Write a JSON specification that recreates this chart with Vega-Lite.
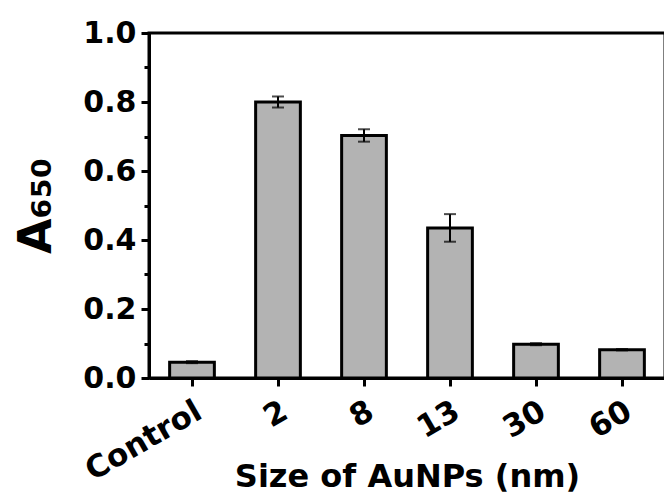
{
  "$schema": "https://vega.github.io/schema/vega-lite/v6.json",
  "autosize": {"type": "none"},
  "padding": {"left": 149, "top": 33, "right": 0, "bottom": 123},
  "width": 516,
  "height": 345,
  "background": "white",
  "config": {
    "view": {"stroke": "black", "strokeWidth": 3},
    "font": "DejaVu Sans"
  },
  "data": {
    "values": [
      {"size": "Control", "A": 0.046, "err": 0.003},
      {"size": "2", "A": 0.800, "err": 0.016},
      {"size": "8", "A": 0.703, "err": 0.018},
      {"size": "13", "A": 0.435, "err": 0.040},
      {"size": "30", "A": 0.098, "err": 0.003},
      {"size": "60", "A": 0.082, "err": 0.002}
    ]
  },
  "encoding": {
    "x": {
      "field": "size", "type": "nominal", "sort": null,
      "scale": {"paddingInner": 0.48, "paddingOuter": 0.24},
      "axis": {
        "title": "Size of AuNPs (nm)",
        "titleFont": "DejaVu Sans", "titleFontSize": 32, "titleFontWeight": "bold", "titleColor": "black",
        "titleBaseline": "alphabetic", "titleY": 108,
        "labelFont": "DejaVu Sans", "labelFontSize": 31, "labelFontWeight": "bold", "labelColor": "black",
        "labelAngle": -30, "labelPadding": 10,
        "domainColor": "black", "domainWidth": 3,
        "tickColor": "black", "tickWidth": 3, "tickSize": 8
      }
    }
  },
  "layer": [
    {
      "mark": {"type": "bar", "fill": "#b3b3b3", "stroke": "black", "strokeWidth": 3},
      "encoding": {
        "y": {
          "field": "A", "type": "quantitative",
          "scale": {"domain": [0, 1], "nice": false, "zero": true},
          "axis": {
            "title": "A₆₅₀",
            "titleFont": "DejaVu Sans", "titleFontSize": 46, "titleFontWeight": "bold", "titleColor": "black",
            "titlePadding": 22,
            "values": [0, 0.2, 0.4, 0.6, 0.8, 1.0], "format": ".1f",
            "labelFont": "DejaVu Sans", "labelFontSize": 30, "labelFontWeight": "bold", "labelColor": "black",
            "labelPadding": 5,
            "domainColor": "black", "domainWidth": 3,
            "tickColor": "black", "tickWidth": 3, "tickSize": 8,
            "grid": false
          }
        }
      }
    },
    {
      "mark": {"type": "errorbar", "ticks": {"size": 12, "thickness": 2, "color": "black"}, "rule": {"strokeWidth": 2, "color": "black"}},
      "encoding": {
        "y": {
          "field": "A", "type": "quantitative",
          "axis": {
            "orient": "left", "title": null, "labels": false, "domain": false, "grid": false,
            "values": [0.1, 0.3, 0.5, 0.7, 0.9],
            "tickColor": "black", "tickWidth": 3, "tickSize": 5
          }
        },
        "yError": {"field": "err"}
      }
    }
  ],
  "resolve": {"axis": {"y": "independent"}}
}
